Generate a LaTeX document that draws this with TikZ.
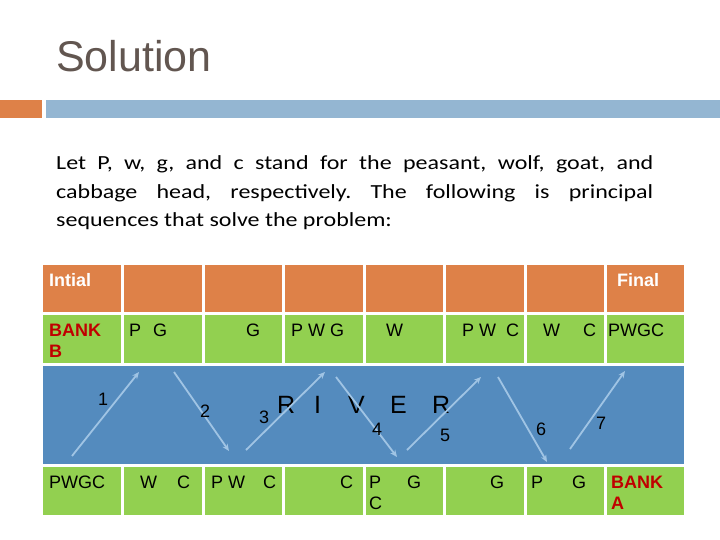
\documentclass[tikz,border=0pt]{standalone}
\usepackage{fontspec}
\setmainfont{Liberation Sans}
\newfontfamily\bodyfont[FakeStretch=1.2]{Carlito}
\usetikzlibrary{arrows.meta}
\definecolor{titlegray}{RGB}{98,86,80}
\definecolor{hdorange}{RGB}{222,129,72}
\definecolor{barblue}{RGB}{148,182,210}
\definecolor{cellgreen}{RGB}{146,208,80}
\definecolor{riverblue}{RGB}{84,139,190}
\definecolor{ferryblue}{RGB}{160,196,228}
\definecolor{bankred}{RGB}{192,0,0}
\hyphenpenalty=10000
\exhyphenpenalty=10000
\frenchspacing

\begin{document}
\begin{tikzpicture}[x=1pt, y=-1pt,
    lbl/.style={anchor=base west, inner sep=0pt, font=\fontsize{18}{21}\selectfont},
    bank/.style={lbl, font=\fontsize{18}{21}\selectfont\bfseries, text=bankred},
    hdr/.style={lbl, font=\fontsize{18}{21}\selectfont\bfseries, text=white},
    river/.style={lbl, font=\fontsize{25}{30}\selectfont},
    ferry/.style={ferryblue, line width=1.8pt, -{Stealth[length=7pt,width=6pt]}}]
  \useasboundingbox (0,0) rectangle (720,540);
  \node[anchor=base west, inner sep=0pt, text=titlegray, font=\fontsize{43}{50}\selectfont]
    (title) at (56,72) {Solution};
  \fill[hdorange] (0,100) rectangle (42,118);
  \fill[barblue] (46,100) rectangle (720,118);
  \node[anchor=base west, inner sep=0pt, text width=597pt, align=justify,
    font=\bodyfont\fontsize{20}{28.5}\selectfont]
    (intro) at (56,170)
    {\spaceskip=5.4pt plus 20pt minus 2pt\relax
     Let P, w, g, and c stand for the peasant, wolf, goat, and\linebreak
     cabbage head, respectively. The following is principal\linebreak
     sequences that solve the problem:};
  \foreach \l/\r in {43/121, 124/202, 205/282, 285/363, 366/443, 446/524, 527/604, 607/684} {
    \fill[hdorange] (\l,265) rectangle (\r,312);
    \fill[cellgreen] (\l,315) rectangle (\r,363);
    \fill[cellgreen] (\l,467) rectangle (\r,515);
  }
  \fill[riverblue] (43,366) rectangle (684,464);
  \node[hdr] (start) at (49,286) {Intial};
  \node[hdr] (final) at (617,286) {Final};
  \node[bank] (bankB) at (49,336) {BANK};
  \node[bank] (bankB2) at (49,357) {B};
  \node[lbl] (b1p) at (129,336) {P};
  \node[lbl] (b1g) at (153,336) {G};
  \node[lbl] (b2) at (246,336) {G};
  \node[lbl] (b3) at (291,336) {P W G};
  \node[lbl] (b4) at (386,336) {W};
  \node[lbl] (b5pw) at (462,336) {P W};
  \node[lbl] (b5c) at (506,336) {C};
  \node[lbl] (b6w) at (543,336) {W};
  \node[lbl] (b6c) at (583,336) {C};
  \node[lbl] (b7) at (608,336) {PWGC};
  \node[lbl] (a0) at (49,488) {PWGC};
  \node[lbl] (a1w) at (140,488) {W};
  \node[lbl] (a1c) at (177,488) {C};
  \node[lbl] (a2pw) at (211,488) {P W};
  \node[lbl] (a2c) at (263,488) {C};
  \node[lbl] (a3) at (340,488) {C};
  \node[lbl] (a4p) at (369,488) {P};
  \node[lbl] (a4g) at (407,488) {G};
  \node[lbl] (a4c) at (369,509) {C};
  \node[lbl] (a5) at (490,488) {G};
  \node[lbl] (a6p) at (531,488) {P};
  \node[lbl] (a6g) at (572,488) {G};
  \node[bank] (bankA) at (611,488) {BANK};
  \node[bank] (bankA2) at (611,509) {A};
  \node[river] (rR) at (277,413) {R};
  \node[river] (rI) at (314,413) {I};
  \node[river] (rV) at (348,413) {V};
  \node[river] (rE) at (390,413) {E};
  \node[river] (rR2) at (432,413) {R};
  \foreach \i/\ax/\ay/\bx/\by/\nx/\ny in {
      1/72/456/139/372/98/405, 2/174/372/229/451/200/417,
      3/246/450/325/372/259/423, 4/336/377/397/457/372/435,
      5/407/450/481/377/440/441, 6/498/377/547/462/536/435,
      7/570/449/625/371/596/429} {
    \coordinate (s\i) at (\ax,\ay);
    \coordinate (e\i) at (\bx,\by);
    \draw[ferry] (s\i) -- (e\i);
    \node[lbl] (n\i) at (\nx,\ny) {\i};
  }
\end{tikzpicture}
\end{document}
